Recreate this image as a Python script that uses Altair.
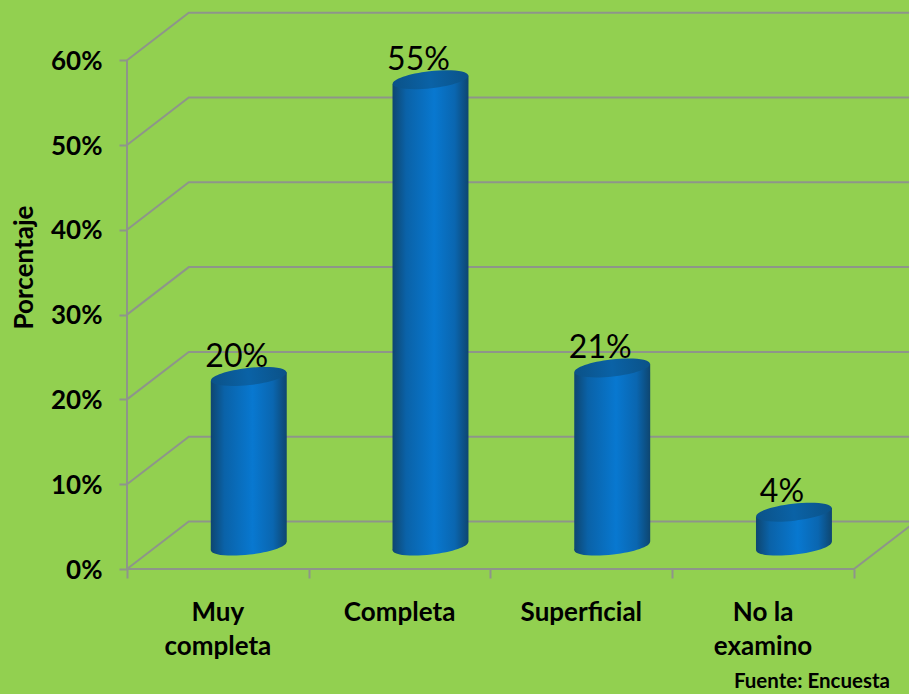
import altair as alt
import pandas as pd

# Survey results
categories = ["Muy\ncompleta", "Completa", "Superficial", "No la\nexamino"]
values = [20, 55, 21, 4]
value_labels = ["20%", "55%", "21%", "4%"]
y_ticks = [0, 10, 20, 30, 40, 50, 60]
source_note = "Fuente: Encuesta"

# Pseudo-3D box proportions, in axis units
DEPTH_X = 0.34
DEPTH_Y = 5.6
RIGHT_END = 4.303
BAR_HALF = 0.209
TILT = 0.51

GREY = "#8e958a"
FONT = "Lato"
BG = "#92D050"

x_scale = alt.Scale(domain=[0, RIGHT_END], nice=False, zero=False)
y_scale = alt.Scale(domain=[0, 67.1], nice=False, zero=False)

# Wall lines: front edge, back edge, then along the back wall
wall_rows = []
for v in y_ticks:
    for order, (px, py) in enumerate([(0, v), (DEPTH_X, v + DEPTH_Y), (RIGHT_END, v + DEPTH_Y)]):
        wall_rows.append({"id": f"g{v}", "o": order, "x": px, "y": py})
for name, pts in {
    "left": [(0, 0), (0, 60)],
    "floor": [(0, 0), (4, 0), (4 + DEPTH_X, DEPTH_Y)],
}.items():
    for order, (px, py) in enumerate(pts):
        wall_rows.append({"id": name, "o": order, "x": px, "y": py})

walls = alt.Chart(pd.DataFrame(wall_rows)).mark_line(color=GREY, strokeWidth=2).encode(
    x=alt.X(
        "x:Q",
        scale=x_scale,
        title=None,
        axis=alt.Axis(values=[0, 1, 2, 3, 4], labels=False, grid=False, domain=False,
                      tickColor=GREY, tickWidth=2, tickSize=9),
    ),
    y=alt.Y(
        "y:Q",
        scale=y_scale,
        title="Porcentaje",
        axis=alt.Axis(values=y_ticks, labelExpr="datum.value + '%'", grid=False, domain=False,
                      tickColor=GREY, tickWidth=2, tickSize=8, labelPadding=17, labelOffset=1,
                      labelFont=FONT, labelFontWeight="bold", labelFontSize=26, labelColor="#000000",
                      titleFont=FONT, titleFontWeight="bold", titleFontSize=26, titleColor="#000000",
                      titleX=-90, titleY=267),
    ),
    detail="id:N",
    order="o:Q",
)

# Cylinder geometry derived from the values
base = DEPTH_Y / 2 - 0.1
centers = [i + 0.5 + DEPTH_X / 2 for i in range(len(values))]
body_rows = []
for i, (c, v) in enumerate(zip(centers, values)):
    body_rows.append({"bar": i, "x": c - BAR_HALF, "top": base + v - TILT, "bottom": base - TILT})
    body_rows.append({"bar": i, "x": c + BAR_HALF, "top": base + v + TILT, "bottom": base + TILT})
body_df = pd.DataFrame(body_rows)
ends_df = pd.DataFrame({
    "x": centers,
    "top": [base + v for v in values],
    "bottom": [base] * len(values),
    "label": value_labels,
})
names_df = pd.DataFrame({"x": [i + 0.5 for i in range(len(categories))], "name": categories})

side_fill = alt.Gradient(
    gradient="linear", x1=0, x2=1, y1=0, y2=0,
    stops=[
        alt.GradientStop(color="#0e4670", offset=0),
        alt.GradientStop(color="#0a62a8", offset=0.18),
        alt.GradientStop(color="#0878d0", offset=0.55),
        alt.GradientStop(color="#0a66b0", offset=0.82),
        alt.GradientStop(color="#0e4670", offset=1),
    ],
)
cap_fill = alt.Gradient(
    gradient="linear", x1=0, x2=1, y1=0, y2=0,
    stops=[
        alt.GradientStop(color="#0b5288", offset=0),
        alt.GradientStop(color="#0a62a6", offset=0.5),
        alt.GradientStop(color="#0b5288", offset=1),
    ],
)

ELLIPSE = "M-1,0 A1,0.224 0 1 1 1,0 A1,0.224 0 1 1 -1,0 Z"
ELLIPSE_SIZE = 76 ** 2

bottom_end = alt.Chart(ends_df).mark_point(
    shape=ELLIPSE, filled=True, fill=side_fill, size=ELLIPSE_SIZE, angle=353.5, opacity=1, strokeWidth=0
).encode(x=alt.X("x:Q", scale=x_scale), y=alt.Y("bottom:Q", scale=y_scale))

body = alt.Chart(body_df).mark_area(fill=side_fill, opacity=1).encode(
    x=alt.X("x:Q", scale=x_scale),
    y=alt.Y("top:Q", scale=y_scale, stack=None),
    y2="bottom:Q",
    detail="bar:N",
)

top_end = alt.Chart(ends_df).mark_point(
    shape=ELLIPSE, filled=True, fill=cap_fill, size=ELLIPSE_SIZE, angle=353.5, opacity=1, strokeWidth=0
).encode(x=alt.X("x:Q", scale=x_scale), y=alt.Y("top:Q", scale=y_scale))

value_text = alt.Chart(ends_df).mark_text(
    font=FONT, fontSize=32, color="#000000", baseline="middle", dx=-12, dy=-20
).encode(x=alt.X("x:Q", scale=x_scale), y=alt.Y("top:Q", scale=y_scale), text="label:N")

name_text = alt.Chart(names_df).mark_text(
    font=FONT, fontSize=26, fontWeight="bold", color="#000000", baseline="top",
    lineBreak="\n", lineHeight=34,
).encode(x=alt.X("x:Q", scale=x_scale), y=alt.value(600), text="name:N")

note_text = alt.Chart(pd.DataFrame({"t": [source_note]})).mark_text(
    font=FONT, fontSize=20.5, fontWeight="bold", color="#000000", align="right", baseline="middle",
).encode(x=alt.value(763), y=alt.value(682), text="t:N")

chart = alt.layer(walls, bottom_end, body, top_end, value_text, name_text, note_text).properties(
    width=782,
    height=569,
    background=BG,
    autosize=alt.AutoSizeParams(type="none"),
    padding={"left": 127, "top": 0, "right": 0, "bottom": 125},
).configure_view(stroke=None)

chart.save("out.html", embed_options={"renderer": "svg", "actions": False})
